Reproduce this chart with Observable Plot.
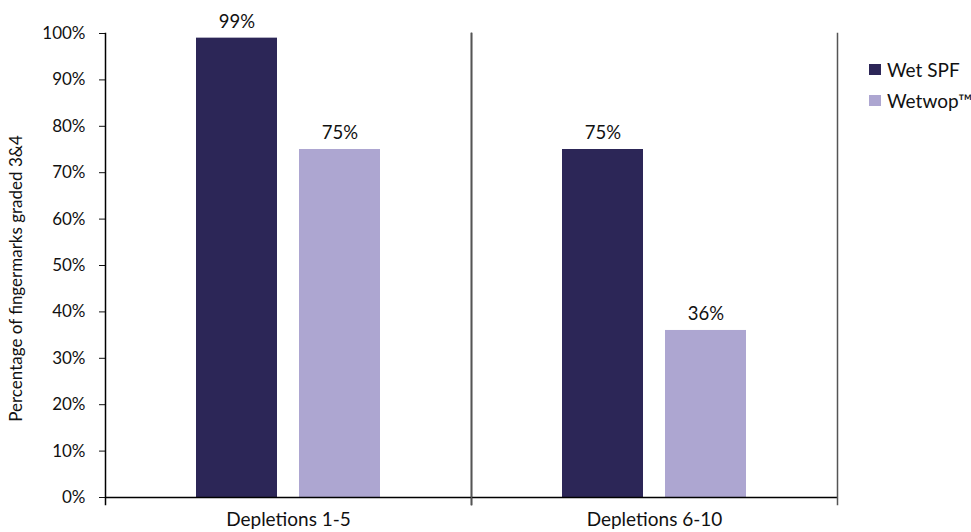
<!DOCTYPE html>
<html>
<head>
<meta charset="utf-8">
<script src="https://cdn.jsdelivr.net/npm/d3@7"></script>
<script src="https://cdn.jsdelivr.net/npm/@observablehq/plot@0.6"></script>
<style>
  body { margin: 0; background: #fff; font-family: Lato, "Open Sans", sans-serif; }
  #wrap { position: relative; width: 971px; height: 532px; }
  .legend { position: absolute; left: 869px; top: 54px; font-size: 19px; color: #111; }
  .legend .item { display: flex; align-items: center; height: 31px; }
  .legend .swatch { width: 12px; height: 11px; margin-right: 6px; }
</style>
</head>
<body>
<div id="wrap"></div>
<script>
// Grading results per depletion range
const categories = ["Depletions 1-5", "Depletions 6-10"];
const series = ["Wet SPF", "Wetwop™"];
const wetSpf = [99, 75];
const wetwop = [75, 36];
const yTicks = [0, 10, 20, 30, 40, 50, 60, 70, 80, 90, 100];
const colors = ["#2c2657", "#ada6d1"];
const yTitle = "Percentage of fingermarks graded 3&4";

const rows = [];
categories.forEach((c, i) => {
  rows.push({category: c, series: series[0], value: wetSpf[i]});
  rows.push({category: c, series: series[1], value: wetwop[i]});
});

const chart = Plot.plot({
  width: 971,
  height: 532,
  marginLeft: 105,
  marginRight: 134,
  marginTop: 33,
  marginBottom: 35,
  style: {fontFamily: "Lato, 'Open Sans', sans-serif", fontSize: "17px", color: "#111", background: "white"},
  facet: {data: rows, x: "category"},
  fx: {domain: categories, padding: 0, axis: "bottom", tickSize: 0, tickPadding: 15, label: null},
  x: {domain: series, axis: null, paddingInner: 0.21, paddingOuter: 0.865},
  y: {
    domain: [0, 100],
    ticks: yTicks,
    tickSize: 6,
    tickPadding: 14,
    tickFormat: d => d + "%",
    label: yTitle,
    labelAnchor: "center",
    labelOffset: 96,
    labelArrow: false
  },
  color: {domain: series, range: colors},
  marks: [
    Plot.barY(rows, {x: "series", y: "value", fill: "series"}),
    Plot.text(rows, {x: "series", y: "value", text: d => d.value + "%", dy: -16, fill: "#111", fontSize: 18.5}),
    Plot.ruleY([0], {stroke: "#000", strokeWidth: 1.5}),
    Plot.frame({anchor: "left", stroke: "#000", strokeWidth: 1.5, insetBottom: -7}),
    Plot.frame({anchor: "right", stroke: "#555", strokeWidth: 1.5, insetBottom: -7})
  ]
});

// Larger type for the category labels; y title centred on the plot area
chart.querySelectorAll("text").forEach(t => {
  const s = t.textContent;
  if (categories.includes(s)) t.style.fontSize = "19px";
  if (s === yTitle) {
    const tr = t.getAttribute("transform") || "";
    t.setAttribute("transform", "translate(0,13) " + tr);
  }
});

const wrap = document.getElementById("wrap");
wrap.appendChild(chart);

const legend = document.createElement("div");
legend.className = "legend";
series.forEach((s, i) => {
  const item = document.createElement("div");
  item.className = "item";
  const sw = document.createElement("span");
  sw.className = "swatch";
  sw.style.background = colors[i];
  const label = document.createElement("span");
  label.textContent = s;
  item.appendChild(sw);
  item.appendChild(label);
  legend.appendChild(item);
});
wrap.appendChild(legend);
</script>
</body>
</html>
